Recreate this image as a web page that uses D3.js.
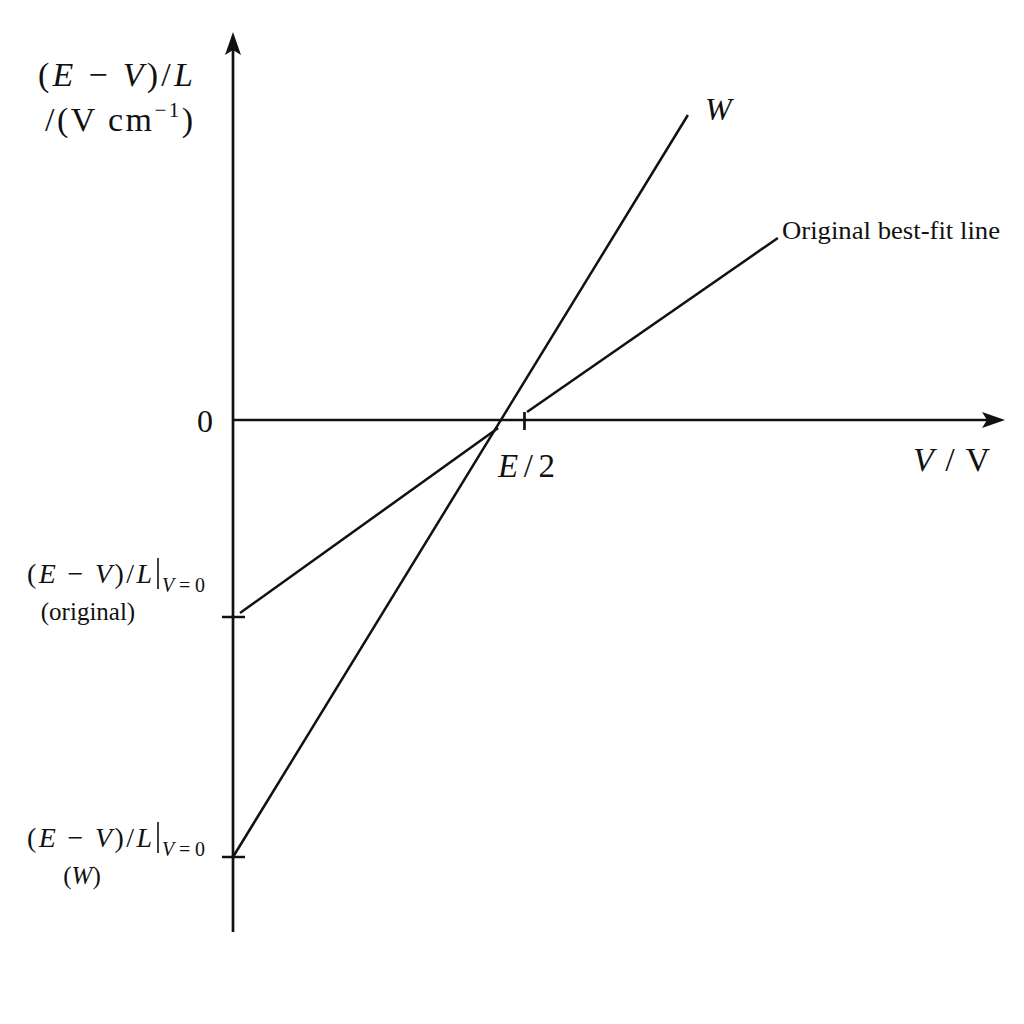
<!DOCTYPE html>
<html><head><meta charset="utf-8">
<script src="https://cdn.jsdelivr.net/npm/d3@7"></script>
<style>body{margin:0;background:#fff}svg{display:block}text{font-family:"Liberation Serif","DejaVu Serif",serif;fill:#111}</style>
</head><body>
<script>
// Data (V in units of E/2, y in arbitrary units of (E-V)/L)
const xDomain = [0, 2.644];
const yDomain = [-5.12, 3.88];
const halfE = 1.0;
const interceptOriginal = -1.97;
const interceptW = -4.37;
const wLine = [[0, -4.37], [1.558, 3.05]];
const originalLower = [[0.024, -1.93], [0.908, -0.08]];
const originalUpper = [[1.007, 0.08], [1.866, 1.82]];
const halfETick = [0.08, -0.10];

const W = 1024, H = 1024;
const svg = d3.select("body").append("svg").attr("width", W).attr("height", H);
const x = d3.scaleLinear().domain(xDomain).range([233, 1005]);
const y = d3.scaleLinear().domain(yDomain).range([932, 32]);
const line = d3.line().x(d => x(d[0])).y(d => y(d[1]));
const stroke = "#111";

// axes
svg.append("line").attr("x1", x(0)).attr("x2", x(xDomain[1]) - 18).attr("y1", y(0)).attr("y2", y(0))
  .attr("stroke", stroke).attr("stroke-width", 2.7);
svg.append("line").attr("x1", x(0)).attr("x2", x(0)).attr("y1", y(yDomain[0])).attr("y2", y(yDomain[1]) + 18)
  .attr("stroke", stroke).attr("stroke-width", 2.7);
// arrow heads
const xe = x(xDomain[1]), y0 = y(0);
svg.append("path").attr("d", `M${xe},${y0} L${xe-23},${y0-8} L${xe-18},${y0} L${xe-23},${y0+8} Z`).attr("fill", stroke);
const yt = y(yDomain[1]), x0 = x(0);
svg.append("path").attr("d", `M${x0},${yt} L${x0-8},${yt+23} L${x0},${yt+18} L${x0+8},${yt+23} Z`).attr("fill", stroke);

// ticks on y axis
[interceptOriginal, interceptW].forEach(v => {
  svg.append("line").attr("x1", x0 - 11).attr("x2", x0 + 12).attr("y1", y(v)).attr("y2", y(v))
    .attr("stroke", stroke).attr("stroke-width", 2.5);
});
// tick at E/2
svg.append("line").attr("x1", x(halfE) - 0.5).attr("x2", x(halfE) - 0.5)
  .attr("y1", y(halfETick[0])).attr("y2", y(halfETick[1])).attr("stroke", stroke).attr("stroke-width", 2.7);

// lines
[wLine, originalLower, originalUpper].forEach(d => {
  svg.append("path").attr("d", line(d)).attr("fill", "none").attr("stroke", stroke).attr("stroke-width", 2.5);
});

// Labels
function mathText(xp, yp, parts, size, anchor, len) {
  const t = svg.append("text").attr("x", xp).attr("y", yp).attr("font-size", size).attr("text-anchor", anchor || "start");
  if (len) t.attr("textLength", len).attr("lengthAdjust", "spacing");
  parts.forEach(p => {
    const s = t.append("tspan").text(p.t);
    if (p.i) s.attr("font-style", "italic");
    if (p.fs) s.attr("font-size", p.fs);
    if (p.dy) s.attr("dy", p.dy);
    if (p.dx) s.attr("dx", p.dx);
  });
  return t;
}
// y-axis title
mathText(38, 86, [{t:"("},{t:"E",i:1},{t:" − "},{t:"V",i:1},{t:")/"},{t:"L",i:1}], 34, "start", 155);
mathText(45, 131, [{t:"/(V cm"},{t:"−1",fs:21,dy:-14},{t:")",dy:14}], 34, "start", 148);
// zero
svg.append("text").attr("x", 205).attr("y", 432).attr("font-size", 32).attr("text-anchor", "middle").text("0");
// E/2
mathText(498, 477, [{t:"E",i:1},{t:"/2"}], 33, "start", 57);
// V / V
mathText(913, 471, [{t:"V",i:1},{t:" / V"}], 34, "start", 77);
// W
mathText(705, 120, [{t:"W",i:1}], 32, "start");
// Original best-fit line
svg.append("text").attr("x", 782).attr("y", 239).attr("font-size", 26).attr("textLength", 218)
  .attr("lengthAdjust", "spacingAndGlyphs").text("Original best-fit line");
// intercept labels
function interceptLabel(yp, subItalic) {
  mathText(27, yp, [{t:"("},{t:"E",i:1},{t:" − "},{t:"V",i:1},{t:")/"},{t:"L",i:1}], 28, "start", 125);
  svg.append("line").attr("x1", 158).attr("x2", 158)
    .attr("y1", yp - 25).attr("y2", yp + 6).attr("stroke", stroke).attr("stroke-width", 1.6);
  mathText(162, yp + 9, [{t:"V",i:1},{t:"=0"}], 20, "start", 43);
  mathText(subItalic ? 82 : 88, yp + 37, subItalic ? [{t:"("},{t:"W",i:1},{t:")"}] : [{t:"(original)"}], 25, "middle");
}
interceptLabel(583, false);
interceptLabel(847, true);
</script>
</body></html>
